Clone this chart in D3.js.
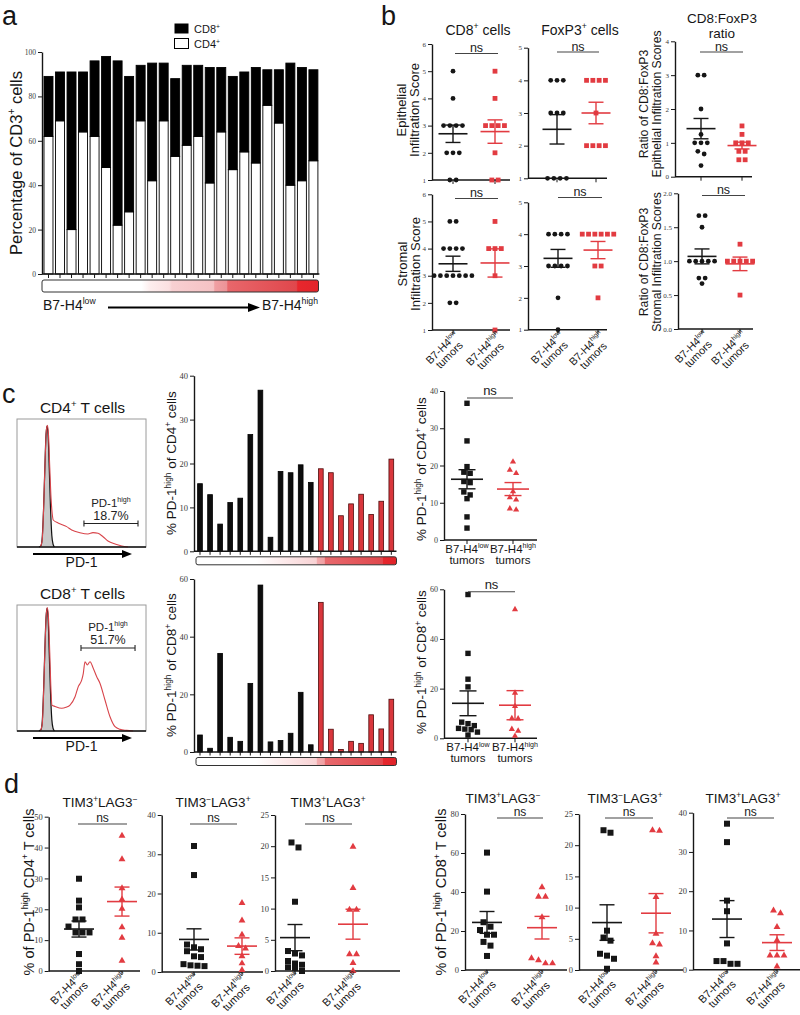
<!DOCTYPE html>
<html>
<head>
<meta charset="utf-8">
<script src="https://cdn.jsdelivr.net/npm/d3@7/dist/d3.min.js"></script>
<style>html,body{margin:0;padding:0;background:#fff;} svg{display:block;}</style>
</head>
<body>
<svg id="fig" width="800" height="1015" xmlns="http://www.w3.org/2000/svg"></svg>
<script>
// ======================= DATA =======================
// Panel a : % of CD3+ cells per tumor (ordered by B7-H4 expression)
const aTumors = ["T1","T2","T3","T4","T5","T6","T7","T8","T9","T10","T11","T12","T13","T14","T15","T16","T17","T18","T19","T20","T21","T22","T23","T24"];
const aCD4 = [62,69,20,64,62,48,22,28,69,42,69,53,58,62,41,64,47,55,50,76,68,40,42,51];
const aCD8 = [27,22,71,27,34,50,74,61,25,53,26,35,36,32,52,29,42,36,43,16,24,55,51,41];
const aTicks = [0,20,40,60,80,100];

// Panel b : infiltration scores (low = B7-H4 low tumors, high = B7-H4 high tumors)
const bGroupLabels = ["B7-H4^{low}", "B7-H4^{high}"];
const bEpiCD8Low  = [5,4,3,3,3,3,2,2,2,1,1];
const bEpiCD8High = [5,4,3,3,3,3,2,1,1];
const bStrCD8Low  = [5,5,4,4,4,4,3,3,3,3,3,3,3,2,2];
const bStrCD8High = [5,4,4,4,3,1];
const bEpiFoxLow  = [4,4,4,3,3,3,1,1,1,1];
const bEpiFoxHigh = [4,4,4,4,3,2,2,2,2];
const bStrFoxLow  = [4,4,4,4,3,3,3,3,2,1];
const bStrFoxHigh = [4,4,4,4,4,4,3,3,2];
const bEpiRatioLow  = [3,3,2,1.25,1,1,1,0.75,0.67,0.33];
const bEpiRatioHigh = [1.5,1.25,1,1,1,0.75,0.75,0.5,0.5];
const bStrRatioLow  = [1.67,1.67,1.5,1,1,1,1,1,0.75,0.75,0.67];
const bStrRatioHigh = [1.25,1,1,1,1,1,0.5];
// mean and SEM  [low, high]
const bEpiCD8Mean = [2.70,2.78],  bEpiCD8Sem = [0.32,0.43];
const bStrCD8Mean = [3.44,3.47],  bStrCD8Sem = [0.28,0.52];
const bEpiFoxMean = [2.50,3.00],  bEpiFoxSem = [0.45,0.33];
const bStrFoxMean = [3.24,3.50],  bStrFoxSem = [0.28,0.27];
const bEpiRatioMean = [1.42,0.92], bEpiRatioSem = [0.30,0.10];
const bStrRatioMean = [1.07,0.96], bStrRatioSem = [0.11,0.10];

// Panel c : % PD-1 high per tumor
const cTumors = ["P1","P2","P3","P4","P5","P6","P7","P8","P9","P10","P11","P12","P13","P14","P15","P16","P17","P18","P19","P20"];
const cGroup = ["low","low","low","low","low","low","low","low","low","low","low","low","high","high","high","high","high","high","high","high"];
const cCD4 = [15.4,12.9,6.2,11.1,12.1,26.6,36.7,3.2,18.2,17.9,19.7,15.7,18.8,17.9,8.1,10.8,13.0,8.4,11.4,21.0];
const cCD8 = [5.9,1.3,34.2,5.1,3.7,23.8,57.9,3.5,4.0,6.5,20.7,2.5,51.9,7.9,0.9,3.7,3.0,12.9,8.0,18.3];
const cCD4Ticks = [0,10,20,30,40];
const cCD8Ticks = [0,20,40,60];
// flow histograms: [PD-1 position (0-100 of axis), % of max]
const cHistCD4Iso = [[17,0],[18.6,1],[19.6,8],[20.6,30],[21.6,62],[22.5,88],[23.3,94.5],[24.1,88],[25,62],[26,30],[27,9],[28,2],[29,0]];
const cHistCD4PD1 = [[18,0],[19.5,5],[20.8,35],[21.8,68],[22.7,90],[23.5,95],[24.4,88],[25.4,62],[26.4,38],[27.3,26],[28.1,21.1],[31.8,18.8],[38.5,15.9],[42.4,13.3],[48.8,11.2],[55,10.2],[58.9,11.2],[62.8,10.7],[66.7,8],[70.5,4.7],[76,2.3],[81.2,0.8],[86,0]];
const cHistCD8Iso = [[17,0],[18.6,1],[19.6,8],[20.6,32],[21.6,65],[22.5,90],[23.3,97.6],[24.1,90],[25,62],[26,30],[27,9],[28,2],[29,0]];
const cHistCD8PD1 = [[18,0],[19.5,5],[20.8,36],[21.8,70],[22.7,92],[23.5,98],[24.4,90],[25.4,62],[26.2,36],[27.1,20.6],[29.5,19.5],[34.7,18],[38,18.8],[41.1,20.6],[45,27.2],[47.5,35.2],[50.2,40.5],[51.4,45.8],[52.7,55],[54.5,52.4],[56.6,55],[59.1,49.8],[61.8,43.1],[64.3,37.9],[68.2,24.6],[72.1,11.3],[76,3.4],[79.8,1.3],[85,0.5],[90,0]];
const cGateCD4 = {from:51.9, to:93.8, pct:"18.7%"};
const cGateCD8 = {from:49.6, to:91.5, pct:"51.7%"};

// Panel d : % of PD-1 high T cells
const dTitles = ["TIM3^{+}LAG3^{−}", "TIM3^{−}LAG3^{+}", "TIM3^{+}LAG3^{+}"];
const dCD4TLLow   = [29.9,22.8,20.6,16.7,16.7,14.4,12.5,12.5,12.5,5.5,2.2,0];
const dCD4TLHigh  = [43.8,36.2,26.8,23.2,20.2,14.2,10.8,3.3];
const dCD4tLLow   = [32.1,24.7,7.0,6.3,5.8,5.3,4.0,3.8,2.0,1.7,1.6,1.5];
const dCD4tLHigh  = [17.6,13.1,9.5,6.6,6.0,4.0,2.2,0.5];
const dCD4TLpLow  = [20.6,19.8,11.1,3.2,2.8,2.5,1.6,1.2,1.0,0.6,0.5,0];
const dCD4TLpHigh = [19.9,13.3,9.8,9.8,2.7,2.7,1.3,0];
const dCD8TLLow   = [60.2,40.2,24.5,22.2,20.5,18.1,18.1,14.4,12.5,7.2];
const dCD8TLHigh  = [42.4,37.6,37.6,27.0,6.0,5.0,3.4,3.4];
const dCD8tLLow   = [22.0,22.4,6.3,5.2,4.7,2.6,2.3,1.8,0.2];
const dCD8tLHigh  = [22.3,22.4,11.7,5.8,4.3,4.1,2.2,1.2];
const dCD8TLpLow  = [37.2,32.5,17.6,14.9,6.7,2.2,2.2,1.5,1.5];
const dCD8TLpHigh = [15.1,14.4,10.9,7.5,3.6,3.6,3.6,0.8];
const dCD4TLMean = [13.6,22.5],  dCD4TLSem = [2.6,4.7];
const dCD4tLMean = [8.3,6.6],    dCD4tLSem = [2.7,2.1];
const dCD4TLpMean = [5.35,7.5],  dCD4TLpSem = [2.1,2.4];
const dCD8TLMean = [24.4,21.7],  dCD8TLSem = [5.6,5.8];
const dCD8tLMean = [7.6,9.1],    dCD8tLSem = [2.85,3.15];
const dCD8TLpMean = [12.9,6.9],  dCD8TLpSem = [4.7,2.0];

// ======================= DRAWING =======================
const svg = d3.select('#fig');
const SANS = "'Liberation Sans', Arial, Helvetica, sans-serif";
const SERIF = "'Liberation Serif', 'Times New Roman', serif";
const RED = '#e23b41';
const INK = '#161616';

function rich(sel, str, fs) {
  const parts = str.split(/(\^\{[^}]*\})/).filter(s => s.length);
  let up = false;
  const sh = fs * 0.4;
  parts.forEach(p => {
    if (p.startsWith('^{')) {
      sel.append('tspan').attr('font-size', fs * 0.62).attr('dy', up ? 0 : -sh).text(p.slice(2, -1));
      up = true;
    } else {
      sel.append('tspan').attr('font-size', fs).attr('dy', up ? sh : 0).text(p);
      up = false;
    }
  });
  return sel;
}
function label(g, x, y, str, fs, o = {}) {
  const t = g.append('text').attr('x', x).attr('y', y)
    .attr('font-family', o.family || SANS).attr('font-size', fs)
    .attr('fill', o.fill || INK).attr('text-anchor', o.anchor || 'start');
  if (o.rotate) t.attr('transform', `rotate(${o.rotate},${x},${y})`);
  rich(t, str, fs);
  return t;
}
function yAxis(g, x, scale, ticks, fmt, fs) {
  const ax = d3.axisLeft(scale).tickValues(ticks).tickFormat(fmt).tickSize(4).tickSizeOuter(0).tickPadding(2);
  const a = g.append('g').attr('transform', `translate(${x},0)`).call(ax);
  a.select('.domain').attr('stroke', INK).attr('stroke-width', 1.4);
  a.selectAll('.tick line').attr('stroke', INK).attr('stroke-width', 1);
  a.selectAll('.tick text').attr('font-family', SERIF).attr('font-size', fs).attr('fill', '#3a3a3a');
  return a;
}
function hline(g, x1, x2, y, color, w) {
  g.append('line').attr('x1', x1).attr('x2', x2).attr('y1', y).attr('y2', y).attr('stroke', color).attr('stroke-width', w);
}
function vline(g, x, y1, y2, color, w) {
  g.append('line').attr('x1', x).attr('x2', x).attr('y1', y1).attr('y2', y2).attr('stroke', color).attr('stroke-width', w);
}
function swarm(values, y, cx, step) {
  const pts = values.map(v => ({v, py: y(v)})).sort((a, b) => a.py - b.py);
  const clusters = [];
  pts.forEach(p => {
    const c = clusters[clusters.length - 1];
    if (c && Math.abs(p.py - c[0].py) < step * 0.85) c.push(p); else clusters.push([p]);
  });
  clusters.forEach(c => c.forEach((p, j) => { p.px = cx + (j - (c.length - 1) / 2) * step; }));
  return pts;
}
function mark(g, shape, x, y, s, color) {
  if (shape === 'circle') {
    g.append('circle').attr('cx', x).attr('cy', y).attr('r', s / 2).attr('fill', color);
  } else if (shape === 'square') {
    g.append('rect').attr('x', x - s / 2).attr('y', y - s / 2).attr('width', s).attr('height', s).attr('fill', color);
  } else {
    const a = s * 1.15, h = a * 0.866;
    g.append('path').attr('d', `M${x},${y - h * 2 / 3}L${x + a / 2},${y + h / 3}L${x - a / 2},${y + h / 3}Z`).attr('fill', color);
  }
}
function rotLabel(g, x, y, lines, fs, lh) {
  const gg = g.append('g').attr('transform', `translate(${x},${y}) rotate(-45)`);
  const t1 = label(gg, 0, 0, lines[0], fs, {anchor: 'end'});
  const w1 = t1.node().getComputedTextLength();
  label(gg, -w1 / 2, lh, lines[1], fs, {anchor: 'middle'});
}

function dotPlot(c) {
  const g = svg.append('g');
  const y = d3.scaleLinear().domain(c.domain).range([c.y0, c.y1]);
  yAxis(g, c.ax, y, c.ticks, c.fmt || d3.format('d'), c.tickFs);
  hline(g, c.ax, c.xEnd, c.y0, INK, 1.4);
  c.gx.forEach(x => vline(g, x, c.y0, c.y0 + 4, INK, 1));
  const sets = [c.low, c.high];
  sets.forEach((vals, i) => {
    const pts = swarm(vals, y, c.gx[i], c.step);
    pts.forEach(p => mark(g, c.shapes[i], p.px, p.py, c.ms, i === 0 ? INK : RED));
  });
  sets.forEach((vals, i) => {
    const col = i === 0 ? INK : RED, cx = c.gx[i], m = c.mean[i], s = c.sem[i];
    hline(g, cx - c.meanW / 2, cx + c.meanW / 2, y(m), col, 1.6);
    vline(g, cx, y(m - s), y(m + s), col, 1.4);
    hline(g, cx - c.capW / 2, cx + c.capW / 2, y(m + s), col, 1.4);
    hline(g, cx - c.capW / 2, cx + c.capW / 2, y(m - s), col, 1.4);
  });
  hline(g, c.ns[0], c.ns[1], c.ns[2], '#444', 1.1);
  label(g, (c.ns[0] + c.ns[1]) / 2, c.ns[2] - c.nsDy, 'ns', c.nsFs, {anchor: 'middle', fill: '#222'});
  if (c.title) label(g, c.title[0], c.title[1], c.title[2], c.titleFs, {anchor: 'middle'});
  if (c.xlab === 'rot') {
    c.gx.forEach((x, i) => rotLabel(g, x + c.labDx, c.y0 + c.labDy, [bGroupLabels[i], 'tumors'], c.labFs, c.labFs * 0.95));
  } else if (c.xlab === 'flat') {
    c.gx.forEach((x, i) => {
      label(g, x, c.y0 + 13, bGroupLabels[i], c.labFs, {anchor: 'middle'});
      label(g, x, c.y0 + 23.5, 'tumors', c.labFs, {anchor: 'middle'});
    });
  }
}

// ---------- gradients ----------
const defs = svg.append('defs');
function gradient(id, stops) {
  const lg = defs.append('linearGradient').attr('id', id).attr('x1', '0%').attr('x2', '100%').attr('y1', '0%').attr('y2', '0%');
  stops.forEach(s => lg.append('stop').attr('offset', s[0]).attr('stop-color', s[1]));
}
gradient('gradA', [[0,'#ffffff'],[0.36,'#ffffff'],[0.39,'#fdeeee'],[0.46,'#fbe0e1'],[0.47,'#f8d0d2'],[0.62,'#f5c2c4'],[0.625,'#f0a0a3'],[0.668,'#ec9397'],[0.672,'#e8676b'],[0.92,'#e0474c'],[0.925,'#e8272d'],[1,'#e2242a']]);
gradient('gradC', [[0,'#ffffff'],[0.30,'#ffffff'],[0.45,'#fce8e9'],[0.60,'#f8d2d4'],[0.605,'#f2aaad'],[0.64,'#f0a0a3'],[0.645,'#e8696d'],[0.93,'#e0484d'],[0.935,'#e6262c'],[1,'#df2329']]);

// ---------- panel letters ----------
[['a',2,25],['b',381,25],['c',2,403],['d',4,793]].forEach(l =>
  svg.append('text').attr('x', l[1]).attr('y', l[2]).attr('font-family', SANS).attr('font-size', 27).attr('fill', INK).text(l[0]));

// ======================= PANEL A =======================
(function () {
  const g = svg.append('g');
  const x = d3.scaleBand().domain(aTumors).range([42.5, 319.4]).paddingInner(0.22).paddingOuter(0.13);
  const y = d3.scaleLinear().domain([0, 100]).range([274, 52]);
  const rows = aTumors.map((t, i) => ({t, cd4: aCD4[i], cd8: aCD8[i]}));
  const layers = d3.stack().keys(['cd4', 'cd8'])(rows);
  g.selectAll('g.layer').data(layers).join('g').attr('fill', (d, i) => i === 0 ? '#fff' : '#000')
    .selectAll('rect').data(d => d).join('rect')
    .attr('x', d => x(d.data.t)).attr('width', x.bandwidth())
    .attr('y', d => y(d[1])).attr('height', d => y(d[0]) - y(d[1]))
    .attr('stroke', '#000').attr('stroke-width', 0.9);
  yAxis(g, 42, y, aTicks, d3.format('d'), 7.5);
  hline(g, 42, 319.4, 274, INK, 1.4);
  aTumors.forEach(t => vline(g, x(t) + x.bandwidth() / 2, 274, 278, INK, 1));
  g.append('rect').attr('x', 42).attr('y', 280).attr('width', 276.5).attr('height', 12).attr('rx', 2)
    .attr('fill', 'url(#gradA)').attr('stroke', '#333').attr('stroke-width', 1);
  label(g, 22, 163, 'Percentage of CD3^{+} cells', 16.5, {anchor: 'middle', rotate: -90});
  // legend
  g.append('rect').attr('x', 174.5).attr('y', 23.5).attr('width', 14).attr('height', 10).attr('fill', '#000');
  g.append('rect').attr('x', 174.5).attr('y', 38.5).attr('width', 14).attr('height', 10).attr('fill', '#fff').attr('stroke', '#000').attr('stroke-width', 1);
  label(g, 194, 33, 'CD8^{+}', 11);
  label(g, 194, 48, 'CD4^{+}', 11);
  // expression arrow
  label(g, 43, 310, 'B7-H4^{low}', 14);
  hline(g, 108, 250, 307.5, '#000', 2);
  g.append('path').attr('d', 'M248,303 L260,307.5 L248,312 Z').attr('fill', '#000');
  label(g, 318, 310, 'B7-H4^{high}', 14, {anchor: 'end'});
})();

// ======================= PANEL B =======================
const bStyle = {tickFs: 7, step: 6.3, ms: 4.8, shapes: ['circle', 'square'], meanW: 29, capW: 15, nsFs: 12.5, nsDy: 1.5, titleFs: 14, labFs: 10.8, labDx: 6, labDy: 6};
[
  {ax: 432, y0: 180, y1: 44, domain: [1, 6], ticks: [1,2,3,4,5,6], xEnd: 510, gx: [453, 495], ns: [455, 498, 53.5], low: bEpiCD8Low, high: bEpiCD8High, mean: bEpiCD8Mean, sem: bEpiCD8Sem, title: [478, 35, 'CD8^{+} cells']},
  {ax: 432, y0: 330, y1: 194.3, domain: [1, 6], ticks: [1,2,3,4,5,6], xEnd: 510, gx: [453, 495], ns: [455, 498, 198.5], low: bStrCD8Low, high: bStrCD8High, mean: bStrCD8Mean, sem: bStrCD8Sem, xlab: 'rot'},
  {ax: 528, y0: 178.3, y1: 47.7, domain: [1, 5], ticks: [1,2,3,4,5], xEnd: 607, gx: [557, 596], ns: [557, 599, 52], low: bEpiFoxLow, high: bEpiFoxHigh, mean: bEpiFoxMean, sem: bEpiFoxSem, title: [580, 35, 'FoxP3^{+} cells']},
  {ax: 528, y0: 329.7, y1: 202.3, domain: [1, 5], ticks: [1,2,3,4,5], xEnd: 607, gx: [558, 598], ns: [558, 602, 197.5], low: bStrFoxLow, high: bStrFoxHigh, mean: bStrFoxMean, sem: bStrFoxSem, xlab: 'rot'},
  {ax: 675, y0: 176.7, y1: 41.3, domain: [0, 4], ticks: [0,1,2,3,4], xEnd: 752, gx: [701, 742], ns: [700, 743, 52], low: bEpiRatioLow, high: bEpiRatioHigh, mean: bEpiRatioMean, sem: bEpiRatioSem},
  {ax: 678, y0: 329, y1: 193.3, domain: [0, 2], ticks: [0,0.5,1,1.5,2], fmt: d3.format('.1f'), xEnd: 753, gx: [702, 740], ns: [702, 745, 195.5], low: bStrRatioLow, high: bStrRatioHigh, mean: bStrRatioMean, sem: bStrRatioSem, xlab: 'rot'}
].forEach(c => dotPlot(Object.assign({}, bStyle, c)));
label(svg, 722, 22.5, 'CD8:FoxP3', 13.5, {anchor: 'middle'});
label(svg, 722, 38, 'ratio', 13.5, {anchor: 'middle'});
function ylab(x, cy, lines, fs, lh) {
  lines.forEach((ln, i) => label(svg, x + i * lh, cy, ln, fs, {anchor: 'middle', rotate: -90}));
}
ylab(406, 110, ['Epithelial', 'Infiltration Score'], 13, 13);
ylab(407, 264, ['Stromal', 'Infiltration Score'], 13, 13);
ylab(648, 104, ['Ratio of CD8:FoxP3', 'Epithelial Infiltration Scores'], 12.2, 13);
ylab(648, 262, ['Ratio of CD8:FoxP3', 'Stromal Infiltration Scores'], 12.2, 13);

// ======================= PANEL C =======================
// histograms
function histogram(h) {
  const g = svg.append('g');
  const x = d3.scaleLinear().domain([0, 100]).range([h.x0, h.x1]);
  const y = d3.scaleLinear().domain([0, 100]).range([h.yb, h.yt]);
  g.append('rect').attr('x', h.x0).attr('y', h.yt).attr('width', h.x1 - h.x0).attr('height', h.yb - h.yt)
    .attr('fill', '#fff').attr('stroke', '#9a9a9a').attr('stroke-width', 1);
  const line = d3.line().x(d => x(d[0])).y(d => y(d[1])).curve(d3.curveMonotoneX);
  const area = d3.area().x(d => x(d[0])).y0(y(0)).y1(d => y(d[1])).curve(d3.curveMonotoneX);
  g.append('path').attr('d', area(h.iso)).attr('fill', '#c9c9c9');
  g.append('path').attr('d', line(h.iso)).attr('fill', 'none').attr('stroke', '#111').attr('stroke-width', 1.2);
  g.append('path').attr('d', line(h.pd1)).attr('fill', 'none').attr('stroke', '#d8444a').attr('stroke-width', 1.1);
  hline(g, h.x0, h.x1, h.yb, '#111', 1.3);
  // gate
  const gy = h.gateY;
  hline(g, x(h.gate.from), x(h.gate.to), gy, '#222', 1.1);
  vline(g, x(h.gate.from), gy - 3, gy + 3, '#222', 1.1);
  vline(g, x(h.gate.to), gy - 3, gy + 3, '#222', 1.1);
  const cx = (x(h.gate.from) + x(h.gate.to)) / 2;
  label(g, cx, gy - 17, 'PD-1^{high}', 11.5, {anchor: 'middle', fill: '#222'});
  label(g, cx, gy - 4, h.gate.pct, 12.5, {anchor: 'middle', fill: '#222'});
  // arrow
  hline(g, h.x0 + 16, h.x1 - 22, h.yb + 7, '#000', 2.2);
  g.append('path').attr('d', `M${h.x1 - 24},${h.yb + 3} L${h.x1 - 14},${h.yb + 7} L${h.x1 - 24},${h.yb + 11} Z`).attr('fill', '#000');
  label(g, (h.x0 + h.x1) / 2, h.yb + 20, 'PD-1', 14, {anchor: 'middle'});
  label(g, (h.x0 + h.x1) / 2 + 1, h.yt - 6, h.title, 15.5, {anchor: 'middle'});
}
histogram({x0: 17, x1: 146, yt: 419, yb: 547, iso: cHistCD4Iso, pd1: cHistCD4PD1, gate: cGateCD4, gateY: 523.5, title: 'CD4^{+} T cells'});
histogram({x0: 17, x1: 146, yt: 605, yb: 731, iso: cHistCD8Iso, pd1: cHistCD8PD1, gate: cGateCD8, gateY: 648, title: 'CD8^{+} T cells'});

// per-tumor bar charts
function barChart(b) {
  const g = svg.append('g');
  const x = d3.scaleBand().domain(cTumors).range([195, 396.3]).paddingInner(0.53).paddingOuter(0.26);
  const y = d3.scaleLinear().domain(b.domain).range([b.y0, b.y1]);
  g.selectAll('rect.bar').data(b.values).join('rect')
    .attr('x', (d, i) => x(cTumors[i])).attr('width', x.bandwidth())
    .attr('y', d => y(d)).attr('height', d => y(0) - y(d))
    .attr('fill', (d, i) => cGroup[i] === 'low' ? '#0d0d0d' : '#d9363c')
    .attr('stroke', (d, i) => cGroup[i] === 'low' ? '#000' : '#4d0c0c').attr('stroke-width', 0.8);
  yAxis(g, 194, y, b.ticks, d3.format('d'), 8.5);
  hline(g, 194, 396.5, b.y0, INK, 1.4);
  cTumors.forEach(t => vline(g, x(t) + x.bandwidth() / 2, b.y0, b.y0 + 3.5, INK, 1));
  g.append('rect').attr('x', 196).attr('y', b.y0 + 5.5).attr('width', 200.5).attr('height', 8).attr('rx', 2)
    .attr('fill', 'url(#gradC)').attr('stroke', '#333').attr('stroke-width', 1);
  label(g, 176, b.cy, b.ylab, 13.5, {anchor: 'middle', rotate: -90});
}
barChart({values: cCD4, domain: [0, 40], ticks: cCD4Ticks, y0: 551.3, y1: 375.7, cy: 463, ylab: '% PD-1^{high} of CD4^{+} cells'});
barChart({values: cCD8, domain: [0, 60], ticks: cCD8Ticks, y0: 752, y1: 579, cy: 665, ylab: '% PD-1^{high} of CD8^{+} cells'});

// summary dot plots (same tumors, split by B7-H4 group)
function split(vals) { return [vals.filter((v, i) => cGroup[i] === 'low'), vals.filter((v, i) => cGroup[i] === 'high')]; }
function stats(arr) { return [d3.mean(arr), d3.deviation(arr) / Math.sqrt(arr.length)]; }
const cStyle = {tickFs: 8, step: 6.3, ms: 5.4, shapes: ['square', 'triangle'], meanW: 32, capW: 17, nsFs: 13, nsDy: 3, labFs: 11.5, xlab: 'flat'};
[[cCD4, {ax: 444, y0: 540, y1: 391, domain: [0, 40], ticks: cCD4Ticks, xEnd: 537, gx: [467, 513], ns: [467, 513, 398], cy: 469, yl: '% PD-1^{high} of CD4^{+} cells'}],
 [cCD8, {ax: 444, y0: 738.3, y1: 589.3, domain: [0, 60], ticks: cCD8Ticks, xEnd: 537, gx: [468, 515], ns: [468, 515, 591.7], cy: 662, yl: '% PD-1^{high} of CD8^{+} cells'}]
].forEach(([vals, c]) => {
  const [lo, hi] = split(vals);
  const sl = stats(lo), sh = stats(hi);
  dotPlot(Object.assign({}, cStyle, c, {low: lo, high: hi, mean: [sl[0], sh[0]], sem: [sl[1], sh[1]]}));
  label(svg, 426, c.cy, c.yl, 13.5, {anchor: 'middle', rotate: -90});
});

// ======================= PANEL D =======================
const dStyle = {tickFs: 8.5, step: 7, ms: 6, shapes: ['square', 'triangle'], meanW: 30, capW: 15, nsFs: 12, nsDy: 2.5, titleFs: 13.5, labFs: 11, labDx: 5, labDy: 5, xlab: 'rot'};
[
  {ax: 48.7, y0: 971, y1: 816.7, domain: [0, 50], ticks: [0,10,20,30,40,50], xEnd: 140, gx: [79, 122], ns: [78, 127, 824], low: dCD4TLLow, high: dCD4TLHigh, mean: dCD4TLMean, sem: dCD4TLSem, title: [100, 807, dTitles[0]]},
  {ax: 161.7, y0: 972, y1: 815, domain: [0, 40], ticks: [0,10,20,30,40], xEnd: 263, gx: [194, 242], ns: [190, 237, 824], low: dCD4tLLow, high: dCD4tLHigh, mean: dCD4tLMean, sem: dCD4tLSem, title: [213, 807, dTitles[1]]},
  {ax: 275, y0: 971, y1: 815, domain: [0, 25], ticks: [0,5,10,15,20,25], xEnd: 400, gx: [295, 353], ns: [305, 352, 824], low: dCD4TLpLow, high: dCD4TLpHigh, mean: dCD4TLpMean, sem: dCD4TLpSem, title: [328, 807, dTitles[2]]},
  {ax: 465, y0: 970, y1: 814, domain: [0, 80], ticks: [0,20,40,60,80], xEnd: 567, gx: [487, 542], ns: [497, 543, 818], low: dCD8TLLow, high: dCD8TLHigh, mean: dCD8TLMean, sem: dCD8TLSem, title: [503, 803, dTitles[0]]},
  {ax: 579, y0: 970, y1: 814, domain: [0, 25], ticks: [0,5,10,15,20,25], xEnd: 683, gx: [607, 656], ns: [605, 653, 818], low: dCD8tLLow, high: dCD8tLHigh, mean: dCD8tLMean, sem: dCD8tLSem, title: [625, 803, dTitles[1]]},
  {ax: 693, y0: 969.7, y1: 812.7, domain: [0, 40], ticks: [0,10,20,30,40], xEnd: 800, gx: [727, 777], ns: [727, 774, 818], low: dCD8TLpLow, high: dCD8TLpHigh, mean: dCD8TLpMean, sem: dCD8TLpSem, title: [743, 803, dTitles[2]]}
].forEach(c => dotPlot(Object.assign({}, dStyle, c)));
label(svg, 34, 892, '% of PD-1^{high} CD4^{+} T cells', 14.5, {anchor: 'middle', rotate: -90});
label(svg, 446, 892, '% of PD-1^{high} CD8^{+} T cells', 14.5, {anchor: 'middle', rotate: -90});
</script>
</body>
</html>
